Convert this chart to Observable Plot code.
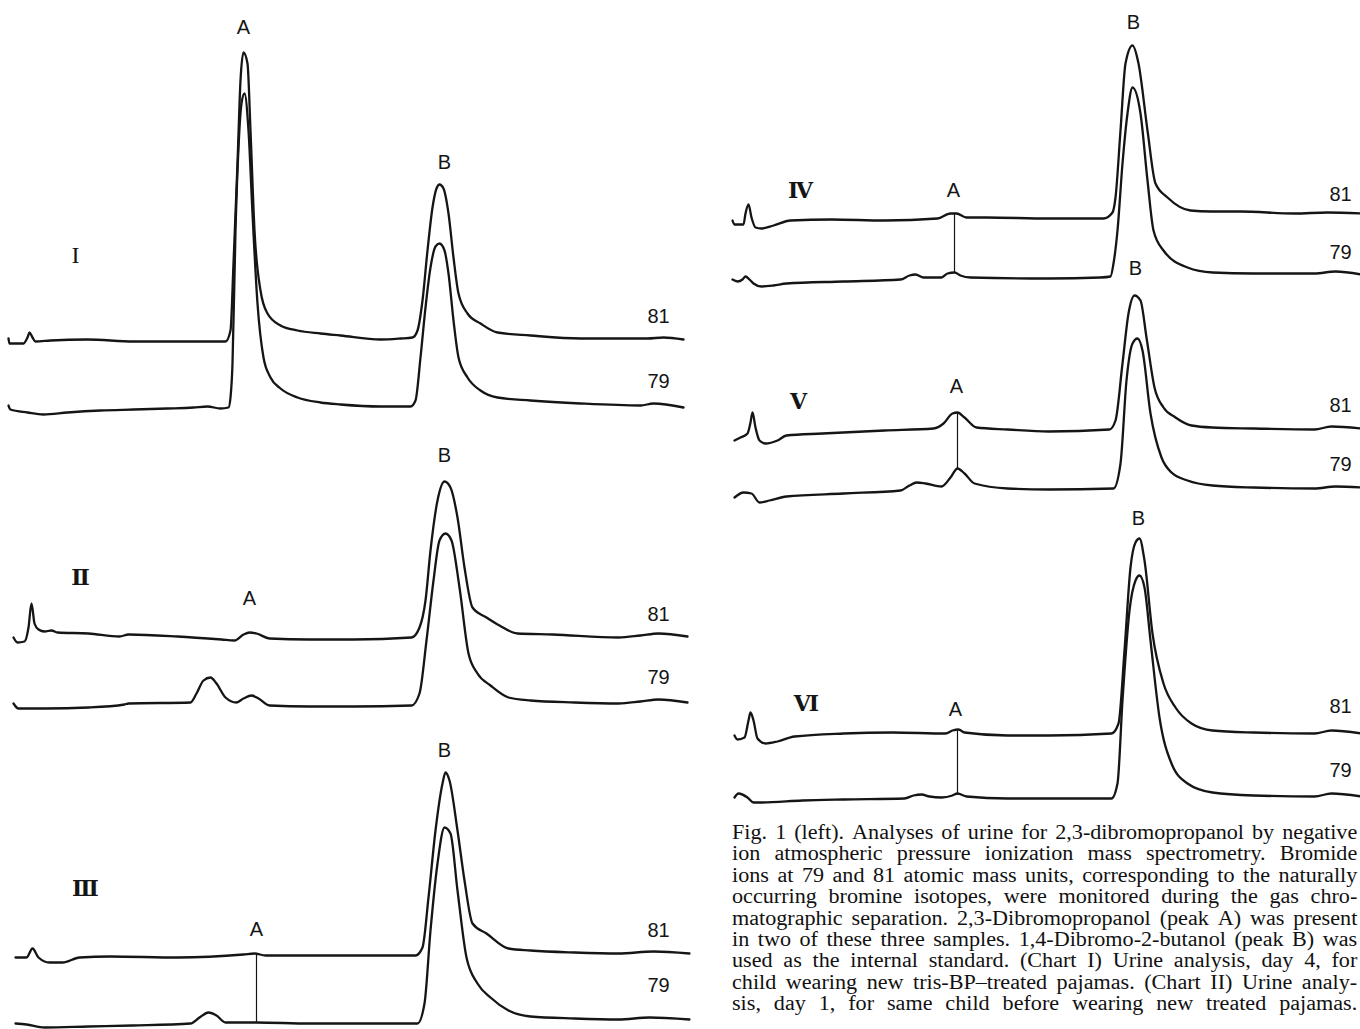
<!DOCTYPE html>
<html><head><meta charset="utf-8">
<script src="https://cdn.jsdelivr.net/npm/d3@7"></script>
<script src="https://cdn.jsdelivr.net/npm/@observablehq/plot@0.6"></script>
<style>
html,body{margin:0;padding:0;background:#fff;}
#fig{position:relative;width:1360px;height:1029px;overflow:hidden;background:#fff;}
.panel{position:absolute;}
.panel svg{overflow:visible;background:transparent;}
#caption{position:absolute;left:732px;top:822px;width:579px;transform:scaleX(1.08);transform-origin:0 0;
  font-family:"Liberation Serif","Times New Roman",serif;font-size:20.5px;line-height:21.4px;color:#111;}
#caption .ln{display:flex;justify-content:space-between;white-space:nowrap;height:21.4px;}
</style></head>
<body><div id="fig"></div>
<script>
// ---- Trace data: [retention time (a.u.), signal (a.u.)] ----
const I_81 = [[8,82],[9,77],[23,77],[27,83],[29,88],[32,83],[35,79],[50,80],[87,81],[133,79],[183,79],[225,79],[230,90],[233,157],[237,257],[240,340],[243,368],[247,357],[250,290],[254,190],[260,130],[267,107],[280,95],[297,90],[320,87],[340,85],[380,81],[400,82],[412,83],[417,90],[422,120],[427,170],[432,213],[436,232],[439,236],[443,232],[448,207],[453,163],[458,127],[467,107],[480,97],[497,88],[530,85],[580,82],[647,82],[663,83],[683,81]];
const I_79 = [[8,15],[10,11],[27,8],[43,6],[67,8],[100,10],[133,11],[167,12],[193,13],[207,14],[220,12],[228,13],[230,23],[232,57],[235,190],[238,273],[241,317],[244,327],[248,290],[252,207],[257,117],[263,63],[270,43],[280,32],[297,23],[320,18],[340,16],[380,14],[410,14],[415,20],[420,63],[425,113],[430,153],[435,174],[439,177],[444,170],[448,147],[453,100],[458,63],[467,43],[480,30],[497,23],[530,20],[580,17],[640,15],[653,17],[683,13]];

const II_81 = [[13,83],[17,78],[24,79],[28,93],[31,117],[34,97],[38,91],[44,89],[51,90],[57,88],[88,87],[119,84],[128,86],[177,84],[221,81],[234,80],[243,86],[249,88],[256,87],[269,82],[309,81],[353,81],[411,83],[419,93],[425,120],[430,170],[437,220],[444,239],[450,233],[457,203],[464,153],[472,113],[486,103],[499,95],[517,87],[552,86],[618,83],[640,85],[658,87],[687,84]];
const II_79 = [[13,17],[18,12],[44,12],[88,13],[124,16],[128,17],[190,18],[196,27],[203,40],[210,43],[216,37],[225,23],[236,18],[243,22],[251,25],[258,22],[269,15],[309,14],[353,14],[411,15],[419,27],[426,80],[433,140],[439,180],[445,187],[451,180],[459,133],[468,67],[477,47],[490,35],[508,23],[530,20],[574,18],[618,17],[640,19],[658,21],[687,18]];

const III_81 = [[15,72],[26,72],[32,81],[38,72],[49,67],[62,67],[79,72],[110,73],[177,72],[243,75],[254,76],[265,74],[309,74],[375,74],[415,74],[422,82],[428,132],[435,199],[442,246],[445,257],[449,249],[457,199],[464,149],[472,106],[486,96],[508,81],[530,79],[574,77],[618,76],[653,78],[689,76]];
const III_79 = [[15,6],[26,5],[44,2],[88,3],[132,4],[190,6],[199,12],[208,17],[216,14],[225,7],[256,7],[309,6],[353,6],[417,6],[424,26],[430,99],[437,166],[444,202],[450,196],[457,139],[466,72],[477,46],[490,32],[508,19],[530,13],[574,11],[618,10],[649,12],[689,10]];

const IV_81 = [[12,70],[14,66],[23,66],[25,77],[28,86],[31,73],[35,63],[41,62],[53,65],[70,70],[111,71],[164,70],[217,72],[230,77],[236,77],[246,73],[266,73],[328,72],[383,72],[392,78],[395,93],[400,160],[405,227],[412,245],[418,227],[427,160],[435,107],[447,93],[470,80],[490,79],[520,79],[574,77],[607,78],[641,77]];
const IV_79 = [[12,11],[17,9],[22,11],[25,14],[29,11],[33,7],[41,4],[53,5],[66,7],[123,9],[180,11],[189,15],[195,16],[203,13],[221,13],[227,17],[234,18],[240,15],[250,13],[328,12],[380,13],[390,14],[393,27],[397,60],[402,127],[407,177],[412,203],[420,177],[427,110],[433,60],[443,40],[467,23],[492,18],[533,17],[594,17],[615,19],[641,16]];

const V_81 = [[14,70],[20,73],[27,77],[30,88],[32,98],[35,83],[39,70],[45,67],[57,70],[66,75],[102,77],[164,80],[213,82],[223,87],[232,97],[237,98],[244,93],[256,83],[287,81],[328,79],[389,81],[395,90],[402,147],[408,197],[414,215],[420,210],[426,173],[434,123],[443,103],[455,93],[471,85],[492,83],[533,82],[594,81],[611,84],[641,82]];
const V_79 = [[14,13],[23,18],[31,17],[39,8],[49,10],[66,14],[123,17],[180,20],[189,25],[196,28],[205,27],[221,24],[230,33],[237,42],[244,37],[254,27],[287,22],[328,21],[393,22],[400,47],[406,130],[412,167],[417,172],[422,160],[430,97],[441,53],[451,38],[467,30],[492,25],[533,23],[594,22],[615,24],[641,23]];

const VI_81 = [[14,75],[17,71],[24,73],[28,90],[30,98],[33,90],[37,72],[45,67],[57,69],[74,74],[123,77],[172,78],[225,77],[232,80],[238,81],[244,78],[287,75],[328,75],[391,77],[398,87],[404,160],[410,243],[415,268],[419,272],[424,250],[432,177],[443,127],[455,103],[471,87],[492,80],[533,78],[594,77],[611,80],[641,77]];
const VI_79 = [[14,13],[18,17],[27,13],[33,8],[41,8],[82,10],[123,11],[184,12],[193,15],[201,16],[209,14],[221,13],[232,15],[237,17],[246,14],[287,12],[328,12],[391,12],[397,27],[402,110],[409,200],[415,230],[419,235],[424,223],[430,170],[439,93],[451,47],[467,27],[492,18],[533,15],[594,14],[611,17],[641,14]];

// ---- Annotations: [text, time, signal] ----
const labels_I   = [["A",243,393],["B",444,258],["81",658,104],["79",658,39]];
const labels_II  = [["A",249,122],["B",444,265],["81",658,106],["79",658,43]];
const labels_III = [["A",256,100],["B",444,279],["81",658,99],["79",658,44]];
const labels_IV  = [["A",233,100],["B",413,268],["81",620,96],["79",620,38]];
const labels_V   = [["A",236,124],["B",415,242],["81",620,105],["79",620,46]];
const labels_VI  = [["A",235,101],["B",418,292],["81",620,104],["79",620,40]];
const numerals = {I:["I",75,165], II:["Ⅱ",80,143], III:["Ⅲ",85,141], IV:["Ⅳ",80,100], V:["Ⅴ",78,109], VI:["Ⅵ",86,107]};
// peak-A marker lines: [time, signal top, signal bottom]
const markers = {III:[256,75,7], IV:[234,77,18], V:[237,98,42], VI:[237,80,15]};

const captionLines = [
 "Fig. 1 (left). Analyses of urine for 2,3-dibromopropanol by negative",
 "ion atmospheric pressure ionization mass spectrometry. Bromide",
 "ions at 79 and 81 atomic mass units, corresponding to the naturally",
 "occurring bromine isotopes, were monitored during the gas chro-",
 "matographic separation. 2,3-Dibromopropanol (peak A) was present",
 "in two of these three samples. 1,4-Dibromo-2-butanol (peak B) was",
 "used as the internal standard. (Chart I) Urine analysis, day 4, for",
 "child wearing new tris-BP–treated pajamas. (Chart II) Urine analy-",
 "sis, day 1, for same child before wearing new treated pajamas."
];

// ---- Layout (page placement of each chart) ----
const layout = {
  I:  {left:0,   top:0,   w:700, h:420, traces:[I_81, I_79],   labels:labels_I},
  II: {left:0,   top:420, w:700, h:300, traces:[II_81, II_79], labels:labels_II},
  III:{left:0,   top:720, w:700, h:309, traces:[III_81, III_79], labels:labels_III},
  IV: {left:720, top:0,   w:640, h:290, traces:[IV_81, IV_79], labels:labels_IV},
  V:  {left:720, top:260, w:640, h:250, traces:[V_81, V_79],   labels:labels_V},
  VI: {left:720, top:505, w:640, h:305, traces:[VI_81, VI_79], labels:labels_VI}
};

const fig = document.getElementById("fig");
const ink = "#151515";
for (const [id, L] of Object.entries(layout)) {
  const marks = [];
  for (const tr of L.traces) {
    marks.push(Plot.line(tr, {x: d => d[0], y: d => d[1], curve: "monotone-x", stroke: ink, strokeWidth: 2.3, strokeLinejoin: "round", strokeLinecap: "round"}));
  }
  if (markers[id]) {
    marks.push(Plot.ruleX([markers[id]], {x: d => d[0], y1: d => d[1], y2: d => d[2], stroke: ink, strokeWidth: 1.2}));
  }
  marks.push(Plot.text(L.labels, {x: d => d[1], y: d => d[2], text: d => d[0], fontSize: 20, fontFamily: "Liberation Sans, Arial, sans-serif", fill: ink}));
  const isI = id === "I";
  marks.push(Plot.text([numerals[id]], {x: d => d[1], y: d => d[2], text: d => d[0],
    fontSize: isI ? 24 : 22, fontWeight: isI ? "normal" : "bold",
    fontFamily: isI ? "Liberation Serif, serif" : "DejaVu Serif, serif", fill: ink}));
  const svg = Plot.plot({
    width: L.w, height: L.h, margin: 0,
    x: {domain: [0, L.w], axis: null},
    y: {domain: [0, L.h], axis: null},
    style: {overflow: "visible", background: "transparent"},
    marks
  });
  const div = document.createElement("div");
  div.className = "panel";
  div.style.left = L.left + "px";
  div.style.top = L.top + "px";
  div.appendChild(svg);
  fig.appendChild(div);
}

const cap = document.createElement("div");
cap.id = "caption";
for (const line of captionLines) {
  const ln = document.createElement("div");
  ln.className = "ln";
  for (const w of line.split(" ")) {
    const s = document.createElement("span");
    s.textContent = w;
    ln.appendChild(s);
  }
  cap.appendChild(ln);
}
fig.appendChild(cap);
</script>
</body></html>
